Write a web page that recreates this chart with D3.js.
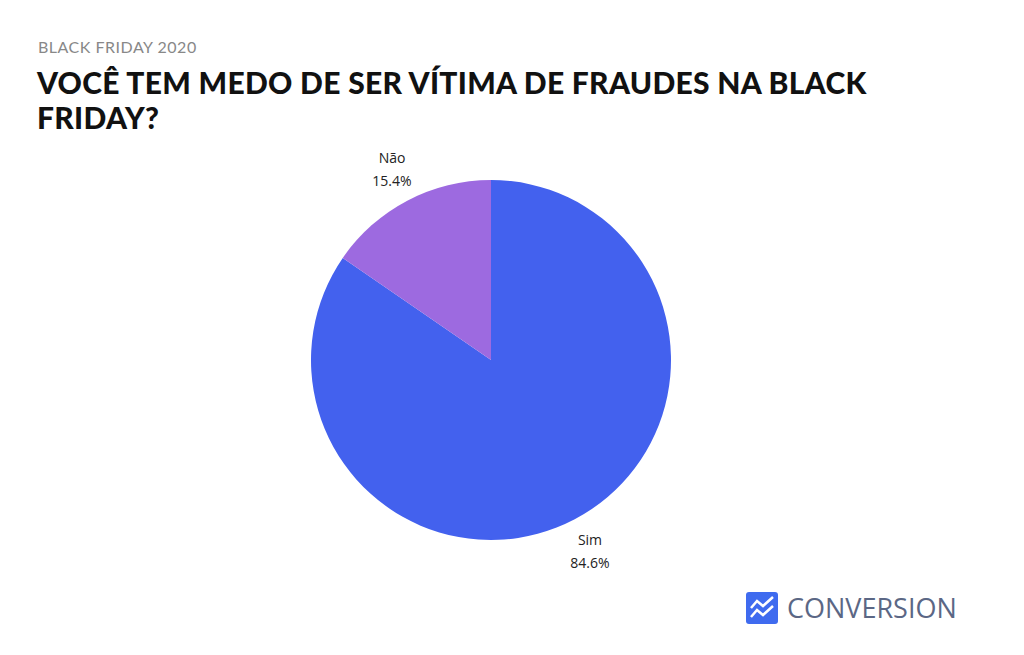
<!DOCTYPE html>
<html><head><meta charset="utf-8">
<script src="https://cdn.jsdelivr.net/npm/d3@7"></script>
<style>body{margin:0;background:#fff}</style></head>
<body><svg id="c" width="1024" height="655"></svg>
<script>
const categories = ["Sim", "Não"];
const values = [84.6, 15.4];
const colors = ["#4361EE", "#9D6AE0"];

const svg = d3.select("#c");
svg.append("text").attr("x",38).attr("y",53).attr("font-family","Lato, 'Open Sans', sans-serif")
  .attr("font-size",16).attr("fill","#888").attr("letter-spacing","0.5").text("BLACK FRIDAY 2020");
const tStyle = s => s.attr("font-family","Lato, 'Open Sans', sans-serif").attr("font-weight",900)
  .attr("font-size",30).attr("fill","#111").attr("letter-spacing","0.3");
tStyle(svg.append("text").attr("x",37).attr("y",94)).text("VOCÊ TEM MEDO DE SER VÍTIMA DE FRAUDES NA BLACK");
tStyle(svg.append("text").attr("x",37).attr("y",129)).text("FRIDAY?");

const cx=491, cy=360, r=180;
const pie = d3.pie().sort(null).value(d=>d);
const arcs = pie(values);
const arc = d3.arc().innerRadius(0).outerRadius(r);
const g = svg.append("g").attr("transform",`translate(${cx},${cy})`);
g.selectAll("path").data(arcs).enter().append("path").attr("d",arc).attr("fill",(d,i)=>colors[i]);

const labelPos = [[590,545],[392,163]];
arcs.forEach((d,i)=>{
  const [x,y] = labelPos[i];
  const tx = svg.append("text").attr("font-family","'Open Sans', sans-serif").attr("font-size",14).attr("fill","#222").attr("text-anchor","middle");
  tx.append("tspan").attr("x",x).attr("y",y).text(categories[i]);
  tx.append("tspan").attr("x",x).attr("y",y+23).text(values[i].toFixed(1)+"%");
});

svg.append("rect").attr("x",746).attr("y",592).attr("width",32).attr("height",32).attr("rx",3).attr("fill","#3F6BEF");
svg.append("path").attr("d","M751,608 L757,601 L763,606 L773,597 M751,617 L757,610 L763,615 L773,606")
  .attr("stroke","#fff").attr("stroke-width",2.5).attr("fill","none");
svg.append("text").attr("x",787).attr("y",618).attr("font-family","'Open Sans', sans-serif").attr("font-size",27)
  .attr("fill","#5B6785").text("CONVERSION");
</script></body></html>
